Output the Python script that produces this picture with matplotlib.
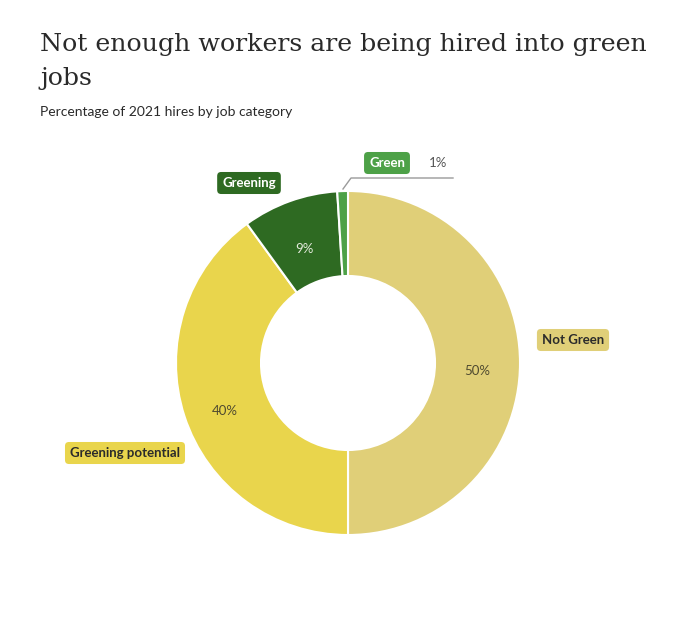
import matplotlib
matplotlib.use("Agg")
import matplotlib.pyplot as plt
import numpy as np

categories = ["Not Green", "Greening potential", "Greening", "Green"]
values = [50, 40, 9, 1]
colors = ["#E0CF78", "#E9D54C", "#2E6A22", "#4DA147"]
box_text_colors = ["#2b2b2b", "#2b2b2b", "white", "white"]
pct_text_colors = ["#4f4a30", "#4f4a30", "#e4ebdc", "#555555"]

W, H = 680, 631
fig = plt.figure(figsize=(W / 100, H / 100), dpi=100)
ax = fig.add_axes([0, 0, 1, 1])

def Y(y):
    return H - y

cx, cy = 348, Y(363)
R = 172
ring = 85

wedges, _ = ax.pie(values, radius=R, center=(cx, cy), startangle=90,
                   counterclock=False, colors=colors,
                   wedgeprops=dict(width=ring, edgecolor="white", linewidth=1.5))
ax.set_xlim(0, W)
ax.set_ylim(0, H)
ax.set_aspect("equal")
ax.axis("off")

sans = ["Lato", "DejaVu Sans"]

# percentage labels inside the ring (except the tiny slice)
rmid = R - ring / 2
for i, w in enumerate(wedges):
    ang = np.deg2rad((w.theta1 + w.theta2) / 2)
    if values[i] < 3:
        continue
    ax.text(cx + rmid * np.cos(ang), cy + rmid * np.sin(ang) - 8,
            f"{values[i]}%", ha="center", va="center", fontsize=9.5,
            color=pct_text_colors[i], family=sans)

# category labels in rounded boxes
label_pos = [(573, 340), (125, 453), (249, 183), (387, 163)]
for i, (x, y) in enumerate(label_pos):
    ax.text(x, Y(y), categories[i], ha="center", va="center", fontsize=9.5,
            color=box_text_colors[i], family=sans, fontweight="bold",
            bbox=dict(boxstyle="round,pad=0.38,rounding_size=0.3",
                      fc=colors[i], ec="none"))

# leader line for the small slice
ax.plot([343, 351, 453], [Y(189), Y(178), Y(178)], color="#9a9a9a", lw=1)
ax.text(438, Y(163), f"{values[3]}%", ha="center", va="center", fontsize=9.5,
        color=pct_text_colors[3], family=sans)

# title & subtitle
fig.text(40 / W, 1 - 45 / H, "Not enough workers are being hired into green",
         ha="left", va="center", fontsize=18.2, family=["DejaVu Serif"],
         color="#2a2a2a")
fig.text(40 / W, 1 - 78 / H, "jobs", ha="left", va="center", fontsize=18.2,
         family=["DejaVu Serif"], color="#2a2a2a")
fig.text(40 / W, 1 - 112 / H, "Percentage of 2021 hires by job category",
         ha="left", va="center", fontsize=10, family=sans, color="#2a2a2a")

fig.savefig("out.png", dpi=100)
